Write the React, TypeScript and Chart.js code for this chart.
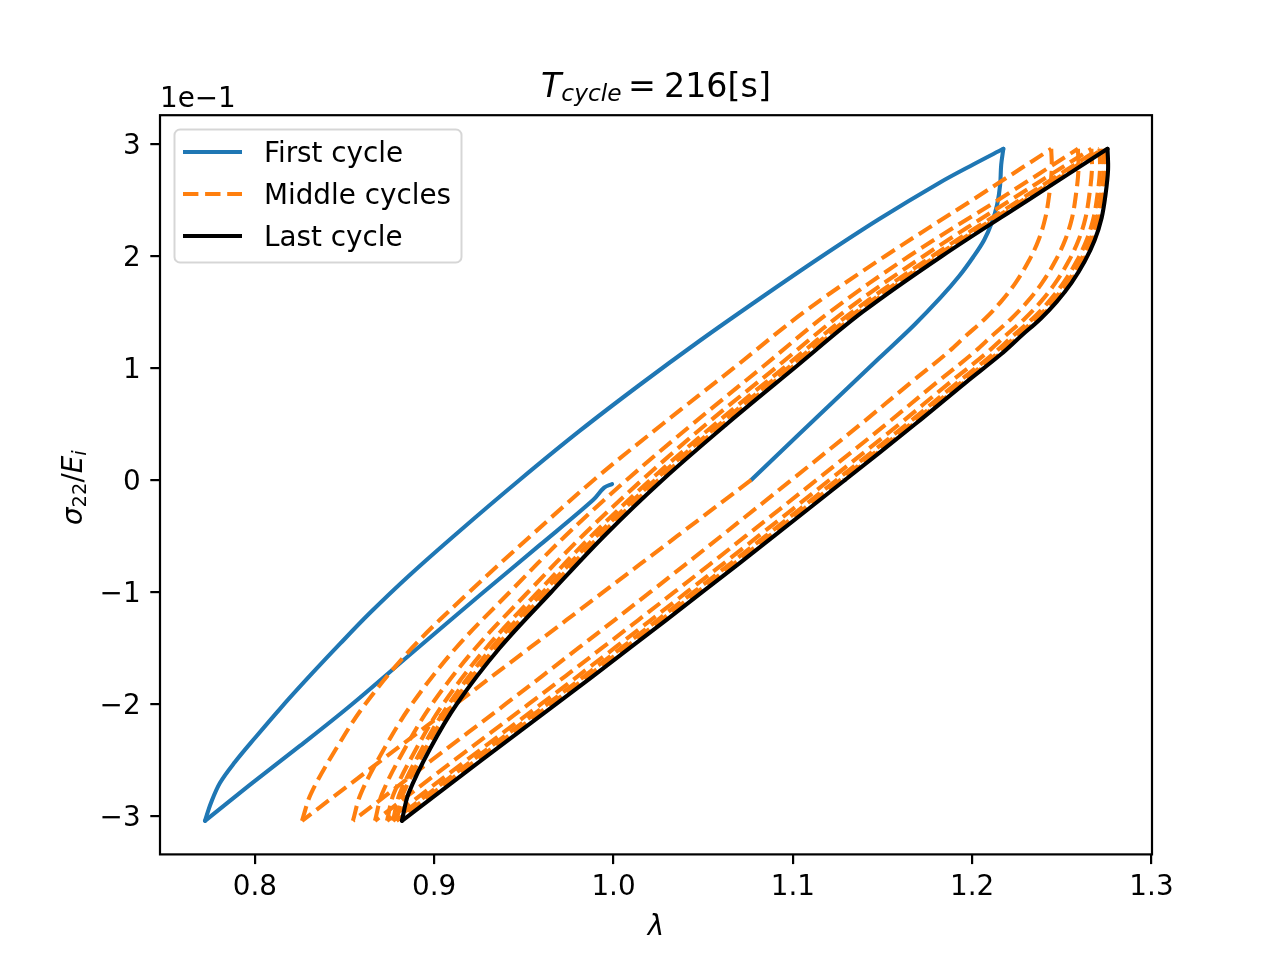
import { useEffect, useRef } from 'react';
import { Chart, registerables } from 'chart.js';

Chart.register(...registerables);

const FONT = '"DejaVu Sans", sans-serif';
const BLUE = '#1f77b4';
const ORANGE = '#ff7f0e';

// stress values are in units of 1e-1 (as on the axis)
const xTicks = [0.8, 0.9, 1.0, 1.1, 1.2, 1.3];
const yTicks = [-3, -2, -1, 0, 1, 2, 3];

// stress levels used by the loading (bottom -> top) and unloading (top -> bottom) branches
const sigUp = [-3.043, -2.8, -2.4, -2.0, -1.5, -1.0, -0.5, 0.0, 0.5, 1.0, 1.5, 2.0, 2.5, 2.957];
const sigDown = [2.957, 2.77, 2.55, 2.34, 2.14, 1.95, 1.76, 1.59, 1.44, 1.29, 1.12, 0.87, 0.5, 0.0, -0.5, -1.0, -1.5, -2.0, -2.5, -3.043];
const sigEntry = [0.0, -0.5, -1.0, -1.5, -2.0, -2.5, -3.043];

// first cycle
const firstDownLam = [0.9992, 0.9948, 0.9886, 0.959, 0.9256, 0.8882, 0.853, 0.8251, 0.7972, 0.7722];
const firstDownSig = [-0.036, -0.068, -0.179, -0.58, -1.027, -1.536, -2.018, -2.375, -2.723, -3.043];
const firstUpLam = [0.7722, 0.7755, 0.7805, 0.7889, 0.8, 0.8139, 0.8306, 0.8474, 0.8641, 0.8864, 0.9142, 0.9476, 0.9811, 1.0145, 1.0479, 1.0813, 1.1148, 1.1482, 1.1816, 1.2011, 1.2174];
const firstUpSig = [-3.043, -2.884, -2.705, -2.518, -2.304, -2.045, -1.75, -1.464, -1.188, -0.848, -0.455, 0.0, 0.438, 0.848, 1.241, 1.616, 1.982, 2.33, 2.652, 2.821, 2.957];
const firstTopLam = [1.2174, 1.2162, 1.2156, 1.2139, 1.2111, 1.2067, 1.2006, 1.1928, 1.1822, 1.1677, 1.1482, 1.1259, 1.1036, 1.0768];
const firstTopSig = [2.957, 2.813, 2.634, 2.455, 2.304, 2.143, 1.991, 1.821, 1.625, 1.384, 1.089, 0.75, 0.411, 0.0];

// middle cycles
const middleEntryLam = [1.0768, 1.0356, 0.9944, 0.9532, 0.912, 0.8708, 0.8263];
const middleUpLam = [
  [0.8263, 0.8313, 0.8453, 0.8616, 0.8876, 0.9196, 0.9538, 0.989, 1.0274, 1.0671, 1.1063, 1.1516, 1.2001, 1.2441],
  [0.8547, 0.8591, 0.8721, 0.8876, 0.9121, 0.9422, 0.9731, 1.0073, 1.0441, 1.0824, 1.1206, 1.1649, 1.2145, 1.259],
  [0.867, 0.871, 0.8836, 0.8988, 0.9231, 0.9524, 0.9826, 1.0159, 1.0518, 1.0903, 1.1285, 1.173, 1.2215, 1.2665],
  [0.8737, 0.8775, 0.89, 0.905, 0.929, 0.9579, 0.9877, 1.0205, 1.0567, 1.0948, 1.1332, 1.1779, 1.2265, 1.271],
  [0.877, 0.8808, 0.8932, 0.9082, 0.932, 0.9608, 0.9905, 1.0232, 1.0593, 1.0972, 1.1354, 1.18, 1.2284, 1.273],
  [0.879, 0.8828, 0.8952, 0.9102, 0.934, 0.9627, 0.9924, 1.025, 1.0611, 1.099, 1.1372, 1.1817, 1.23, 1.2745],
];
const middleDownLam = [
  [1.2441, 1.2444, 1.243, 1.2408, 1.237, 1.2314, 1.2242, 1.216, 1.2072, 1.1967, 1.1851, 1.1658, 1.138, 1.0992, 1.0601, 1.0206, 0.9805, 0.9399, 0.8988, 0.8547],
  [1.259, 1.2593, 1.2579, 1.2557, 1.2518, 1.2462, 1.239, 1.2307, 1.2218, 1.2113, 1.1996, 1.1802, 1.1522, 1.1132, 1.0738, 1.034, 0.9936, 0.9528, 0.9114, 0.867],
  [1.2665, 1.2668, 1.2654, 1.2632, 1.2593, 1.2537, 1.2464, 1.2382, 1.2293, 1.2187, 1.207, 1.1875, 1.1595, 1.1204, 1.0809, 1.041, 1.0006, 0.9597, 0.9182, 0.8737],
  [1.271, 1.2713, 1.2699, 1.2677, 1.2638, 1.2582, 1.2509, 1.2426, 1.2337, 1.223, 1.2113, 1.1918, 1.1637, 1.1244, 1.0849, 1.0448, 1.0043, 0.9632, 0.9216, 0.877],
  [1.273, 1.2733, 1.2719, 1.2697, 1.2658, 1.2602, 1.2529, 1.2446, 1.2357, 1.225, 1.2133, 1.1938, 1.1657, 1.1264, 1.0869, 1.0468, 1.0063, 0.9652, 0.9236, 0.879],
  [1.2745, 1.2748, 1.2734, 1.2712, 1.2673, 1.2617, 1.2544, 1.2461, 1.2372, 1.2266, 1.2149, 1.1954, 1.1673, 1.1281],
];

// last cycle
const lastDownLam = [1.1291, 1.0896, 1.0496, 1.0091, 0.9681, 0.9266, 0.882];
const lastUpLam = [0.882, 0.8857, 0.8977, 0.9126, 0.9365, 0.9653, 0.9948, 1.0273, 1.0632, 1.1009, 1.1389, 1.1832, 1.2313, 1.2755];
const lastTopLam = [1.2755, 1.2758, 1.2744, 1.2722, 1.2683, 1.2627, 1.2554, 1.2471, 1.2382, 1.2276, 1.2159, 1.1964, 1.1683, 1.1291];

const pts = (lam: number[], sig: number[]) => lam.map((x, i) => ({ x, y: sig[i] }));

const line = (data: { x: number; y: number }[], color: string, order: number, dashed = false) => ({
  data,
  showLine: true,
  borderColor: color,
  backgroundColor: color,
  borderWidth: 4.1,
  borderDash: dashed ? [15.4, 6.7] : [],
  borderCapStyle: dashed ? 'butt' : 'round',
  borderJoinStyle: 'round',
  pointRadius: 0,
  tension: 0.35,
  fill: false,
  order,
});

const drawParts = (ctx: CanvasRenderingContext2D, x: number, y: number, parts: { t: string; f: string; dy?: number }[]) => {
  let cx = x;
  for (const p of parts) {
    ctx.font = p.f;
    ctx.fillText(p.t, cx, y + (p.dy || 0));
    cx += ctx.measureText(p.t).width;
  }
};

const decorations = {
  id: 'decorations',
  afterDraw(chart: Chart) {
    const { ctx, chartArea: a } = chart;
    ctx.save();
    // axes frame
    ctx.strokeStyle = '#000';
    ctx.lineWidth = 2.2;
    ctx.setLineDash([]);
    ctx.strokeRect(a.left, a.top, a.right - a.left, a.bottom - a.top);

    // legend
    ctx.beginPath();
    ctx.roundRect(174.5, 129.5, 287, 133, 5.6);
    ctx.fillStyle = 'rgba(255,255,255,0.8)';
    ctx.fill();
    ctx.strokeStyle = 'rgba(204,204,204,0.8)';
    ctx.lineWidth = 2;
    ctx.stroke();
    const entries = [
      { label: 'First cycle', color: BLUE, dash: [] as number[], y: 152 },
      { label: 'Middle cycles', color: ORANGE, dash: [15.4, 6.7], y: 194 },
      { label: 'Last cycle', color: '#000', dash: [] as number[], y: 236 },
    ];
    for (const e of entries) {
      ctx.beginPath();
      ctx.setLineDash(e.dash);
      ctx.lineCap = 'butt';
      ctx.strokeStyle = e.color;
      ctx.lineWidth = 4.1;
      ctx.moveTo(183, e.y);
      ctx.lineTo(242, e.y);
      ctx.stroke();
      ctx.setLineDash([]);
      ctx.fillStyle = '#000';
      ctx.font = `27.8px ${FONT}`;
      ctx.textAlign = 'left';
      ctx.textBaseline = 'alphabetic';
      ctx.fillText(e.label, 264, e.y + 10);
    }

    ctx.fillStyle = '#000';
    ctx.textBaseline = 'alphabetic';
    ctx.textAlign = 'left';
    // offset text
    ctx.font = `27.8px ${FONT}`;
    ctx.fillText('1e\u22121', 160, 107);

    // title
    const big = `33.3px ${FONT}`;
    const bigIt = `italic 33.3px ${FONT}`;
    const subIt = `italic 23.3px ${FONT}`;
    drawParts(ctx, 541, 97, [
      { t: 'T', f: bigIt },
      { t: 'cycle', f: subIt, dy: 4 },
    ]);
    ctx.font = big;
    ctx.textAlign = 'center';
    ctx.fillText('=', 642, 97);
    ctx.textAlign = 'left';
    ctx.fillText('216[s]', 664, 97);

    // x label
    ctx.font = `italic 27.8px ${FONT}`;
    ctx.textAlign = 'center';
    ctx.fillText('\u03bb', 656, 935);

    // y label
    ctx.save();
    ctx.translate(82, 525);
    ctx.rotate(-Math.PI / 2);
    ctx.textAlign = 'left';
    drawParts(ctx, 0, 0, [
      { t: '\u03c3', f: `italic 27.8px ${FONT}` },
      { t: '22', f: `19.5px ${FONT}`, dy: 4 },
      { t: '/', f: `27.8px ${FONT}` },
      { t: 'E', f: `italic 27.8px ${FONT}` },
      { t: 'i', f: `italic 19.5px ${FONT}`, dy: 4 },
    ]);
    ctx.restore();
    ctx.restore();
  },
};

export default function App() {
  const canvasRef = useRef<HTMLCanvasElement>(null);

  useEffect(() => {
    document.body.style.margin = '0';
    if (!canvasRef.current) return;

    const datasets: any[] = [
      line(pts(lastDownLam, sigEntry), '#000', 0),
      line(pts(lastUpLam, sigUp), '#000', 0),
      line(pts(lastTopLam, sigDown.slice(0, lastTopLam.length)), '#000', 0),
      line(pts(middleEntryLam, sigEntry), ORANGE, 1, true),
    ];
    middleUpLam.forEach((lam, i) => {
      datasets.push(line(pts(lam, sigUp), ORANGE, 1, true));
      const down = middleDownLam[i];
      datasets.push(line(pts(down, sigDown.slice(0, down.length)), ORANGE, 1, true));
    });
    datasets.push(line(pts(firstDownLam, firstDownSig), BLUE, 2));
    datasets.push(line(pts(firstUpLam, firstUpSig), BLUE, 2));
    datasets.push(line(pts(firstTopLam, firstTopSig), BLUE, 2));

    const tickFont = { family: FONT, size: 27.8 };
    const chart = new Chart(canvasRef.current, {
      type: 'scatter',
      data: { datasets },
      options: {
        responsive: false,
        devicePixelRatio: 1,
        animation: false,
        events: [],
        layout: { padding: { top: 115.2, right: 128, left: 0, bottom: 0 } },
        plugins: {
          legend: { display: false },
          tooltip: { enabled: false },
          title: { display: false },
        },
        scales: {
          x: {
            type: 'linear',
            min: 0.7471,
            max: 1.3003,
            afterFit: (s: any) => { s.height = 105.6; },
            afterBuildTicks: (s: any) => { s.ticks = xTicks.map((value) => ({ value })); },
            ticks: {
              font: tickFont,
              color: '#000',
              padding: 7,
              maxRotation: 0,
              autoSkip: false,
              callback: (v: any) => Number(v).toFixed(1),
            },
            grid: {
              drawOnChartArea: false,
              drawTicks: true,
              tickLength: 9.7,
              tickWidth: 2.2,
              lineWidth: 2.2,
              tickColor: '#000',
            },
            border: { display: false },
          },
          y: {
            type: 'linear',
            min: -3.343,
            max: 3.257,
            afterFit: (s: any) => { s.width = 160; },
            afterBuildTicks: (s: any) => { s.ticks = yTicks.map((value) => ({ value })); },
            ticks: {
              font: tickFont,
              color: '#000',
              padding: 9.7,
              labelOffset: 3,
              autoSkip: false,
              callback: (v: any) => (Number(v) < 0 ? '\u2212' + Math.abs(Number(v)) : String(v)),
            },
            grid: {
              drawOnChartArea: false,
              drawTicks: true,
              tickLength: 9.7,
              tickWidth: 2.2,
              lineWidth: 2.2,
              tickColor: '#000',
            },
            border: { display: false },
          },
        },
      },
      plugins: [decorations],
    } as any);

    return () => chart.destroy();
  }, []);

  return (
    <div style={{ position: 'absolute', left: 0, top: 0, width: 1280, height: 960, background: '#fff' }}>
      <canvas ref={canvasRef} width={1280} height={960} style={{ width: '1280px', height: '960px' }} />
    </div>
  );
}
